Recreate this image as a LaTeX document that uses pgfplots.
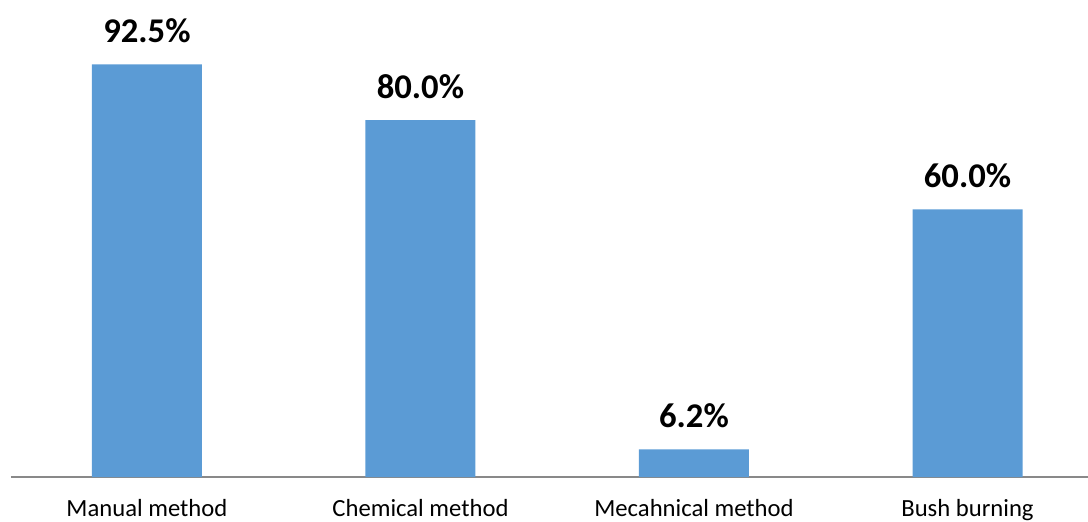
\documentclass[border=0pt]{standalone}
\usepackage{pgfplots}
\pgfplotsset{compat=1.18}
\usepackage{fontspec}
\setmainfont{Carlito}
\definecolor{barblue}{HTML}{5B9BD5}
\definecolor{axisgray}{HTML}{898989}
\begin{document}
\begin{tikzpicture}
\useasboundingbox (0,0) rectangle (816pt,390.75pt);
\begin{axis}[
  at={(8.25pt,33pt)}, anchor=south west,
  scale only axis,
  width=807.75pt, height=357.75pt,
  xmin=-0.497, xmax=3.4406,
  ymin=0, ymax=106.95,
  axis x line=bottom,
  axis y line=none,
  x axis line style={-, draw=axisgray, line width=0.9pt},
  xtick={0,1,2,3},
  xticklabels={Manual method, Chemical method, Mecahnical method, Bush burning},
  major tick length=0pt,
  xticklabel style={font=\fontsize{18.5pt}{20pt}\selectfont, anchor=base, yshift=-29.5pt, text=black},
  ybar, bar width=82.5pt,
  clip=false,
  nodes near coords,
  point meta=explicit symbolic,
  every node near coord/.append style={font=\bfseries\fontsize{26pt}{28pt}\selectfont, anchor=base, yshift=16.5pt, text=black, inner sep=0pt},
]
\addplot[fill=barblue, draw=none] coordinates {
  (0,92.5) [92.5\%]
  (1,80.0) [80.0\%]
  (2,6.2) [6.2\%]
  (3,60.0) [60.0\%]
};
\end{axis}
\end{tikzpicture}
\end{document}
